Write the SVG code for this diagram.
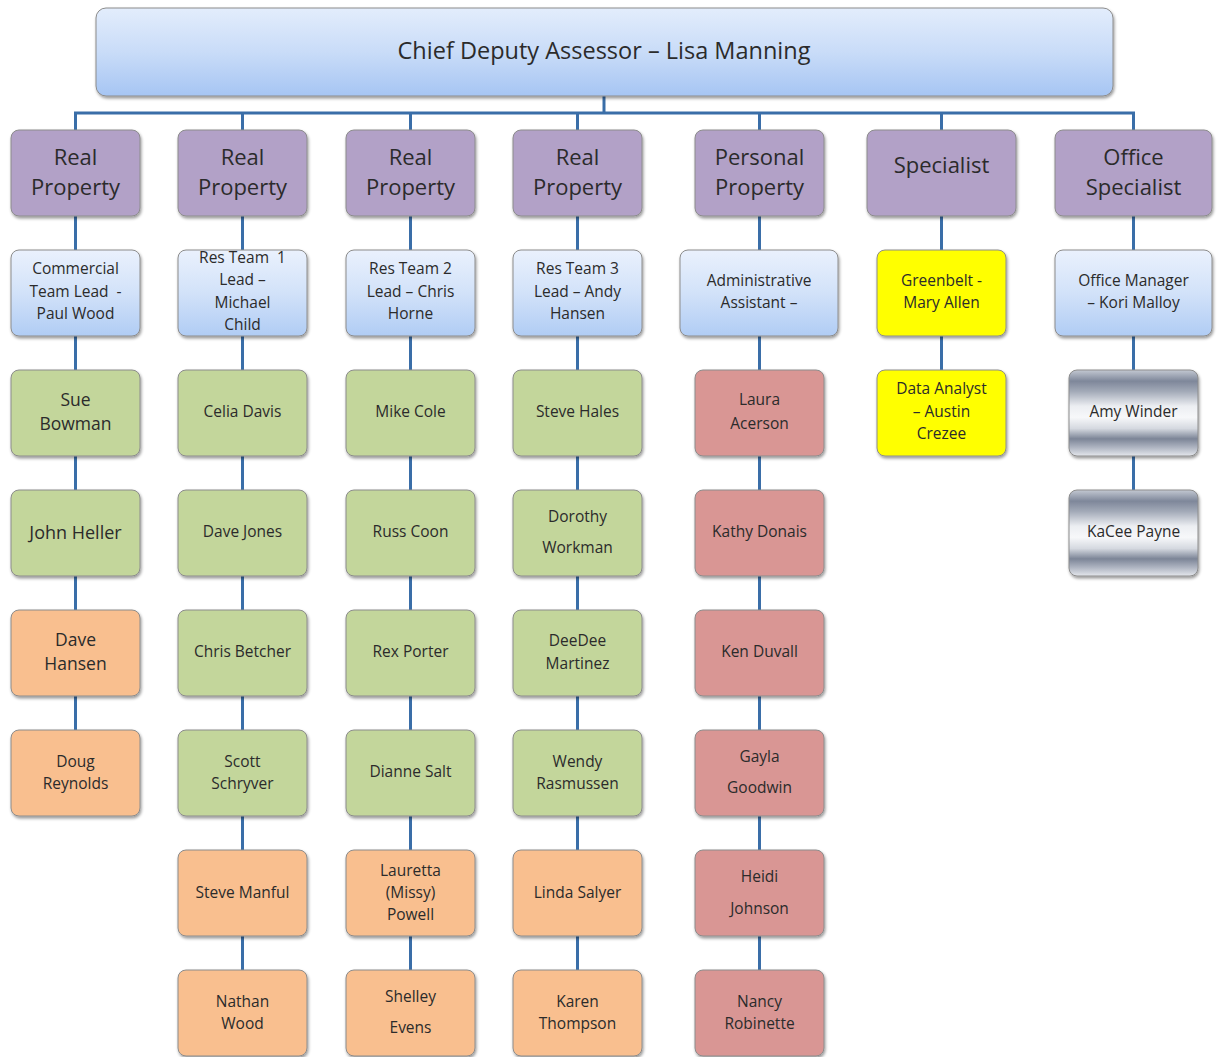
<svg xmlns="http://www.w3.org/2000/svg" width="1217" height="1057" viewBox="0 0 1217 1057">
<defs>
<linearGradient id="gBlue" x1="0" y1="0" x2="0" y2="1">
<stop offset="0" stop-color="#e3edfc"/><stop offset="0.5" stop-color="#c9dcf8"/><stop offset="1" stop-color="#a6c5f3"/>
</linearGradient>
<linearGradient id="gLead" x1="0" y1="0" x2="0" y2="1">
<stop offset="0" stop-color="#eaf1fd"/><stop offset="0.5" stop-color="#d2e2f9"/><stop offset="1" stop-color="#b0ccf4"/>
</linearGradient>
<linearGradient id="gGray" x1="0" y1="0" x2="0" y2="1">
<stop offset="0" stop-color="#c3c8d2"/><stop offset="0.13" stop-color="#7e879a"/><stop offset="0.25" stop-color="#a3aab8"/><stop offset="0.42" stop-color="#eceef2"/><stop offset="0.55" stop-color="#f7f8fa"/><stop offset="0.68" stop-color="#d5d9e0"/><stop offset="0.8" stop-color="#7c8597"/><stop offset="0.9" stop-color="#aeb4c1"/><stop offset="1" stop-color="#e4e7ec"/>
</linearGradient>
<filter id="sh" x="-10%" y="-10%" width="125%" height="130%">
<feDropShadow dx="1" dy="2" stdDeviation="1.6" flood-color="#000" flood-opacity="0.4"/>
</filter>
</defs>
<style>
.b{stroke:#8c8c8c;stroke-width:1;filter:url(#sh)}
.top{fill:url(#gBlue)}
.pur{fill:#b2a1c7}
.lead{fill:url(#gLead)}
.grn{fill:#c3d69b}
.org{fill:#f9bf8f}
.red{fill:#d99694}
.yel{fill:#ffff00}
.gry{fill:url(#gGray)}
text{font-family:"Open Sans",Lato,"Liberation Sans",sans-serif;fill:#2b2b2b;text-anchor:middle}
.t1{font-size:23.5px}
.t2{font-size:22px}
.t3{font-size:15.5px}
.t4{font-size:17.5px}
.pre{white-space:pre}
.conn line{stroke:#3a6ea8;stroke-width:3}
</style>
<rect width="1217" height="1057" fill="#ffffff"/>
<g class="conn" id="connectors">
<line x1="604" y1="96" x2="604" y2="113"/>
<line x1="74" y1="113" x2="1135" y2="113"/>
<line x1="75.5" y1="113" x2="75.5" y2="730"/>
<line x1="242.5" y1="113" x2="242.5" y2="970"/>
<line x1="410.5" y1="113" x2="410.5" y2="970"/>
<line x1="577.5" y1="113" x2="577.5" y2="970"/>
<line x1="759.5" y1="113" x2="759.5" y2="970"/>
<line x1="941.5" y1="113" x2="941.5" y2="370"/>
<line x1="1133.5" y1="113" x2="1133.5" y2="490"/>
</g>
<g id="chief"><rect class="b top" x="96" y="8" width="1017" height="88" rx="10"/><text class="t1" x="604" y="59">Chief Deputy Assessor – Lisa Manning</text></g>

<g id="rp1"><rect class="b pur" x="11" y="130" width="129" height="86" rx="8"/><text class="t2" x="75.5" y="165">Real</text><text class="t2" x="75.5" y="195">Property</text></g>
<g id="rp2"><rect class="b pur" x="178" y="130" width="129" height="86" rx="8"/><text class="t2" x="242.5" y="165">Real</text><text class="t2" x="242.5" y="195">Property</text></g>
<g id="rp3"><rect class="b pur" x="346" y="130" width="129" height="86" rx="8"/><text class="t2" x="410.5" y="165">Real</text><text class="t2" x="410.5" y="195">Property</text></g>
<g id="rp4"><rect class="b pur" x="513" y="130" width="129" height="86" rx="8"/><text class="t2" x="577.5" y="165">Real</text><text class="t2" x="577.5" y="195">Property</text></g>
<g id="pp"><rect class="b pur" x="695" y="130" width="129" height="86" rx="8"/><text class="t2" x="759.5" y="165">Personal</text><text class="t2" x="759.5" y="195">Property</text></g>
<g id="spec"><rect class="b pur" x="867" y="130" width="149" height="86" rx="8"/><text class="t2" x="941.5" y="173">Specialist</text></g>
<g id="ospec"><rect class="b pur" x="1055" y="130" width="157" height="86" rx="8"/><text class="t2" x="1133.5" y="165">Office</text><text class="t2" x="1133.5" y="195">Specialist</text></g>

<g id="lead1"><rect class="b lead" x="11" y="250" width="129" height="86" rx="8"/><text class="t3" x="75.5" y="274">Commercial</text><text class="t3 pre" x="75.5" y="297">Team Lead  -</text><text class="t3" x="75.5" y="319">Paul Wood</text></g>
<g id="lead2"><rect class="b lead" x="178" y="250" width="129" height="86" rx="8"/><text class="t3 pre" x="242.5" y="263">Res Team  1</text><text class="t3" x="242.5" y="285">Lead –</text><text class="t3" x="242.5" y="308">Michael</text><text class="t3" x="242.5" y="330">Child</text></g>
<g id="lead3"><rect class="b lead" x="346" y="250" width="129" height="86" rx="8"/><text class="t3" x="410.5" y="274">Res Team 2</text><text class="t3" x="410.5" y="297">Lead – Chris</text><text class="t3" x="410.5" y="319">Horne</text></g>
<g id="lead4"><rect class="b lead" x="513" y="250" width="129" height="86" rx="8"/><text class="t3" x="577.5" y="274">Res Team 3</text><text class="t3" x="577.5" y="297">Lead – Andy</text><text class="t3" x="577.5" y="319">Hansen</text></g>
<g id="admin"><rect class="b lead" x="680" y="250" width="158" height="86" rx="8"/><text class="t3" x="759" y="286">Administrative</text><text class="t3" x="759" y="308">Assistant –</text></g>
<g id="greenbelt"><rect class="b yel" x="877" y="250" width="129" height="86" rx="8"/><text class="t3" x="941.5" y="286">Greenbelt -</text><text class="t3" x="941.5" y="308">Mary Allen</text></g>
<g id="officemgr"><rect class="b lead" x="1055" y="250" width="157" height="86" rx="8"/><text class="t3" x="1133.5" y="286">Office Manager</text><text class="t3" x="1133.5" y="308">– Kori Malloy</text></g>

<g id="sue"><rect class="b grn" x="11" y="370" width="129" height="86" rx="8"/><text class="t4" x="75.5" y="406">Sue</text><text class="t4" x="75.5" y="430">Bowman</text></g>
<g id="celia"><rect class="b grn" x="178" y="370" width="129" height="86" rx="8"/><text class="t3" x="242.5" y="417">Celia Davis</text></g>
<g id="mike"><rect class="b grn" x="346" y="370" width="129" height="86" rx="8"/><text class="t3" x="410.5" y="417">Mike Cole</text></g>
<g id="steveh"><rect class="b grn" x="513" y="370" width="129" height="86" rx="8"/><text class="t3" x="577.5" y="417">Steve Hales</text></g>
<g id="laura"><rect class="b red" x="695" y="370" width="129" height="86" rx="8"/><text class="t3" x="759.5" y="405">Laura</text><text class="t3" x="759.5" y="429">Acerson</text></g>
<g id="analyst"><rect class="b yel" x="877" y="370" width="129" height="86" rx="8"/><text class="t3" x="941.5" y="394">Data Analyst</text><text class="t3" x="941.5" y="417">– Austin</text><text class="t3" x="941.5" y="439">Crezee</text></g>
<g id="amy"><rect class="b gry" x="1069" y="370" width="129" height="86" rx="8"/><text class="t3" x="1133.5" y="417">Amy Winder</text></g>

<g id="john"><rect class="b grn" x="11" y="490" width="129" height="86" rx="8"/><text class="t4" x="75.5" y="539" style="font-size:18px">John Heller</text></g>
<g id="davej"><rect class="b grn" x="178" y="490" width="129" height="86" rx="8"/><text class="t3" x="242.5" y="537">Dave Jones</text></g>
<g id="russ"><rect class="b grn" x="346" y="490" width="129" height="86" rx="8"/><text class="t3" x="410.5" y="537">Russ Coon</text></g>
<g id="dorothy"><rect class="b grn" x="513" y="490" width="129" height="86" rx="8"/><text class="t3" x="577.5" y="522">Dorothy</text><text class="t3" x="577.5" y="553">Workman</text></g>
<g id="kathy"><rect class="b red" x="695" y="490" width="129" height="86" rx="8"/><text class="t3" x="759.5" y="537">Kathy Donais</text></g>
<g id="kacee"><rect class="b gry" x="1069" y="490" width="129" height="86" rx="8"/><text class="t3" x="1133.5" y="537">KaCee Payne</text></g>

<g id="daveh"><rect class="b org" x="11" y="610" width="129" height="86" rx="8"/><text class="t4" x="75.5" y="646">Dave</text><text class="t4" x="75.5" y="670">Hansen</text></g>
<g id="chris"><rect class="b grn" x="178" y="610" width="129" height="86" rx="8"/><text class="t3" x="242.5" y="657">Chris Betcher</text></g>
<g id="rex"><rect class="b grn" x="346" y="610" width="129" height="86" rx="8"/><text class="t3" x="410.5" y="657">Rex Porter</text></g>
<g id="deedee"><rect class="b grn" x="513" y="610" width="129" height="86" rx="8"/><text class="t3" x="577.5" y="646">DeeDee</text><text class="t3" x="577.5" y="669">Martinez</text></g>
<g id="ken"><rect class="b red" x="695" y="610" width="129" height="86" rx="8"/><text class="t3" x="759.5" y="657">Ken Duvall</text></g>

<g id="doug"><rect class="b org" x="11" y="730" width="129" height="86" rx="8"/><text class="t3" x="75.5" y="767">Doug</text><text class="t3" x="75.5" y="789">Reynolds</text></g>
<g id="scott"><rect class="b grn" x="178" y="730" width="129" height="86" rx="8"/><text class="t3" x="242.5" y="767">Scott</text><text class="t3" x="242.5" y="789">Schryver</text></g>
<g id="dianne"><rect class="b grn" x="346" y="730" width="129" height="86" rx="8"/><text class="t3" x="410.5" y="777">Dianne Salt</text></g>
<g id="wendy"><rect class="b grn" x="513" y="730" width="129" height="86" rx="8"/><text class="t3" x="577.5" y="767">Wendy</text><text class="t3" x="577.5" y="789">Rasmussen</text></g>
<g id="gayla"><rect class="b red" x="695" y="730" width="129" height="86" rx="8"/><text class="t3" x="759.5" y="762">Gayla</text><text class="t3" x="759.5" y="793">Goodwin</text></g>

<g id="stevem"><rect class="b org" x="178" y="850" width="129" height="86" rx="8"/><text class="t3" x="242.5" y="898">Steve Manful</text></g>
<g id="lauretta"><rect class="b org" x="346" y="850" width="129" height="86" rx="8"/><text class="t3" x="410.5" y="876">Lauretta</text><text class="t3" x="410.5" y="898">(Missy)</text><text class="t3" x="410.5" y="920">Powell</text></g>
<g id="linda"><rect class="b org" x="513" y="850" width="129" height="86" rx="8"/><text class="t3" x="577.5" y="898">Linda Salyer</text></g>
<g id="heidi"><rect class="b red" x="695" y="850" width="129" height="86" rx="8"/><text class="t3" x="759.5" y="882">Heidi</text><text class="t3" x="759.5" y="914">Johnson</text></g>

<g id="nathan"><rect class="b org" x="178" y="970" width="129" height="86" rx="8"/><text class="t3" x="242.5" y="1007">Nathan</text><text class="t3" x="242.5" y="1029">Wood</text></g>
<g id="shelley"><rect class="b org" x="346" y="970" width="129" height="86" rx="8"/><text class="t3" x="410.5" y="1002">Shelley</text><text class="t3" x="410.5" y="1033">Evens</text></g>
<g id="karen"><rect class="b org" x="513" y="970" width="129" height="86" rx="8"/><text class="t3" x="577.5" y="1007">Karen</text><text class="t3" x="577.5" y="1029">Thompson</text></g>
<g id="nancy"><rect class="b red" x="695" y="970" width="129" height="86" rx="8"/><text class="t3" x="759.5" y="1007">Nancy</text><text class="t3" x="759.5" y="1029">Robinette</text></g>
</svg>
